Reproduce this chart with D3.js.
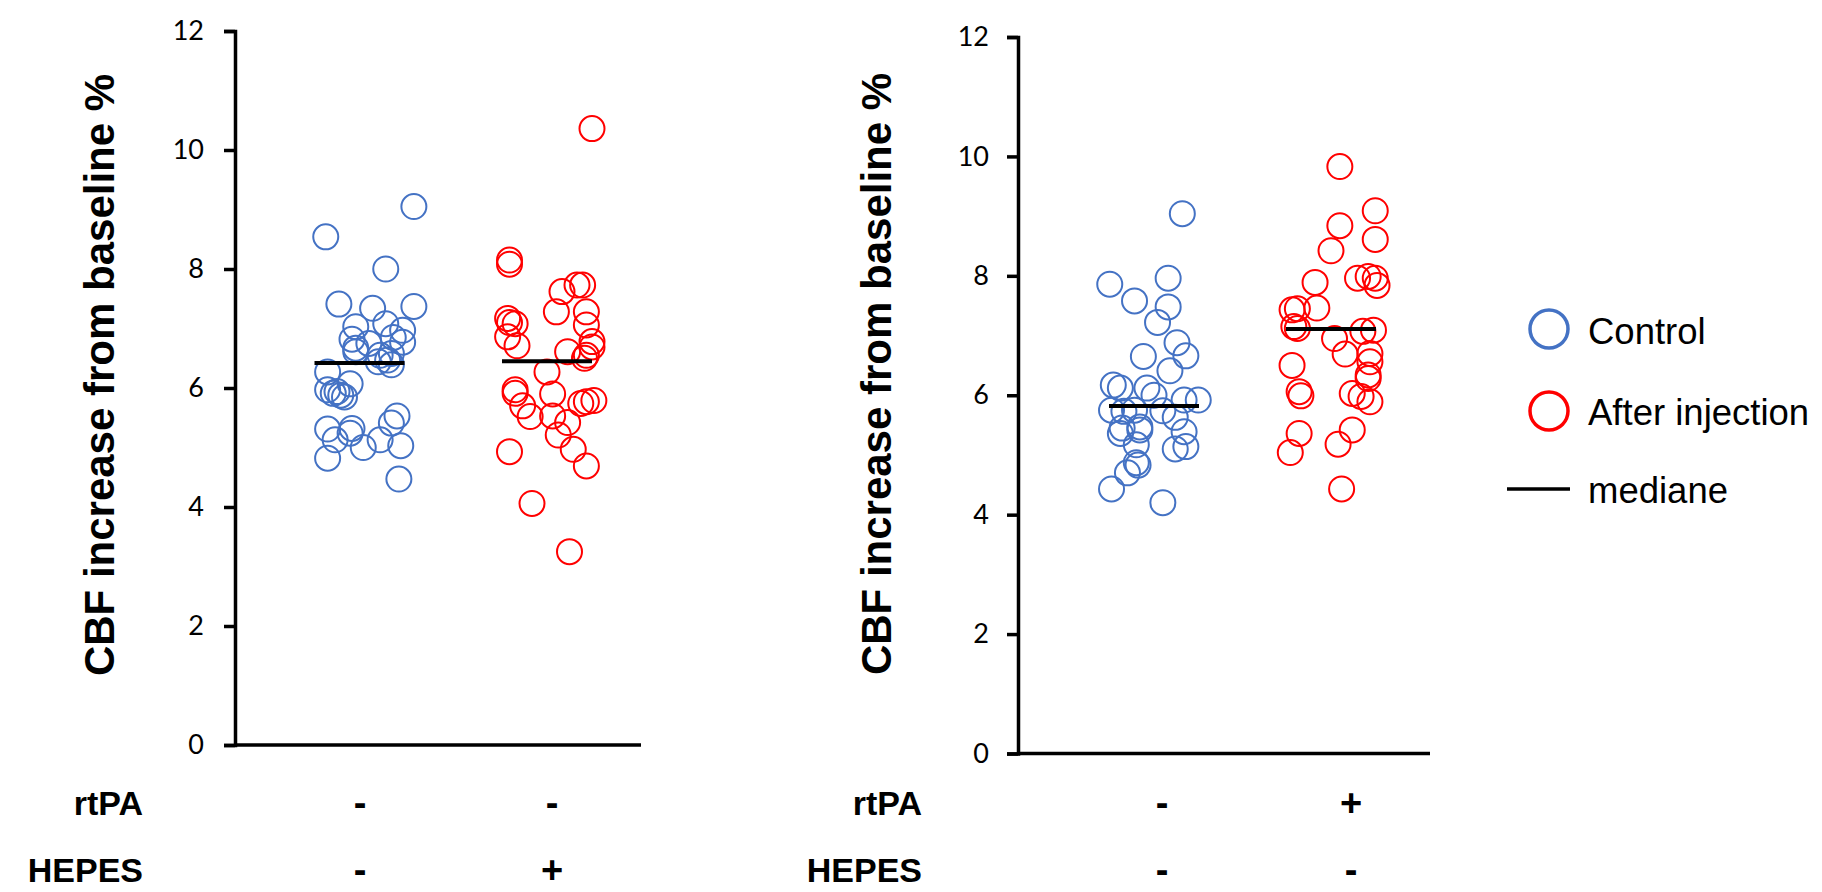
<!DOCTYPE html>
<html>
<head>
<meta charset="utf-8">
<script src="https://cdn.jsdelivr.net/npm/d3@7"></script>
<style>
  html, body { margin: 0; padding: 0; background: #fff; }
  svg { display: block; }
</style>
</head>
<body>
<svg id="chart" width="1822" height="892"></svg>
<script>
// ---------------- DATA ----------------
const yTicks = [0, 2, 4, 6, 8, 10, 12];
const yLabel = "CBF increase from baseline %";
const rowLabels = ["rtPA", "HEPES"];
const leftRtpa = ["-", "-"];
const leftHepes = ["-", "+"];
const rightRtpa = ["-", "+"];
const rightHepes = ["-", "-"];
const legendLabels = ["Control", "After injection", "mediane"];

// Left panel (HEPES experiment) – Control
const leftControl = [9.05, 8.54, 8.00, 7.41, 7.34, 7.37, 7.03, 7.08, 6.97, 6.82, 6.75, 6.85, 6.77, 6.67, 6.61, 6.55, 6.58, 6.47, 6.39, 6.44, 6.27, 6.07, 5.97, 5.94, 5.88, 5.85, 5.91, 5.31, 5.32, 5.13, 5.24, 5.00, 5.13, 5.53, 5.41, 5.03, 4.82, 4.47];
const leftControlJitter = [0.29, -0.18, 0.14, -0.11, 0.07, 0.29, -0.02, 0.14, 0.23, -0.04, 0.05, 0.18, 0.23, -0.02, -0.02, 0.11, 0.17, 0.15, 0.17, 0.10, -0.17, -0.05, -0.17, -0.12, -0.10, -0.08, -0.14, -0.17, -0.04, -0.13, -0.05, 0.02, 0.11, 0.20, 0.17, 0.22, -0.17, 0.21];
// Left panel – After injection
const leftInjection = [10.36, 8.15, 8.08, 7.62, 7.73, 7.73, 7.28, 7.28, 7.06, 7.17, 7.10, 7.08, 6.86, 6.71, 6.78, 6.69, 6.61, 6.55, 6.50, 6.27, 5.97, 5.91, 5.90, 5.70, 5.52, 5.53, 5.74, 5.77, 5.79, 5.42, 5.21, 4.97, 4.69, 4.93, 4.06, 3.25];
const leftInjectionJitter = [0.24, -0.20, -0.20, 0.08, 0.16, 0.19, 0.05, 0.21, 0.21, -0.21, -0.20, -0.17, -0.21, -0.16, 0.24, 0.24, 0.11, 0.21, 0.20, 0.00, -0.17, -0.17, 0.03, -0.13, -0.09, 0.03, 0.18, 0.21, 0.25, 0.11, 0.06, 0.14, 0.21, -0.20, -0.08, 0.12];

// Right panel (rtPA experiment) – Control
const rightControl = [9.04, 7.86, 7.96, 7.58, 7.48, 7.22, 6.88, 6.66, 6.65, 6.41, 6.17, 6.12, 6.12, 6.00, 5.92, 5.92, 5.75, 5.73, 5.75, 5.74, 5.63, 5.47, 5.45, 5.36, 5.42, 5.39, 5.17, 5.14, 5.10, 4.83, 4.87, 4.70, 4.43, 4.20];
const rightControlJitter = [0.16, -0.25, 0.08, -0.11, 0.08, 0.02, 0.13, 0.18, -0.06, 0.09, -0.23, -0.19, -0.04, 0.00, 0.17, 0.25, -0.24, -0.17, -0.11, 0.05, 0.12, -0.08, -0.18, -0.19, -0.08, 0.17, -0.10, 0.18, 0.12, -0.09, -0.10, -0.15, -0.24, 0.05];
// Right panel – After injection
const rightInjection = [9.83, 9.09, 8.84, 8.61, 8.42, 7.89, 7.96, 7.99, 7.96, 7.84, 7.43, 7.45, 7.46, 7.15, 7.12, 6.95, 7.07, 7.09, 6.69, 6.70, 6.56, 6.50, 6.34, 6.28, 6.06, 5.99, 6.03, 5.98, 5.89, 5.36, 5.42, 5.04, 5.18, 4.43];
const rightInjectionJitter = [0.05, 0.25, 0.05, 0.25, 0.00, -0.09, 0.15, 0.21, 0.25, 0.26, -0.22, -0.19, -0.08, -0.21, -0.19, 0.02, 0.18, 0.24, 0.08, 0.22, 0.22, -0.22, 0.21, 0.21, -0.18, -0.17, 0.12, 0.17, 0.22, -0.18, 0.12, -0.23, 0.04, 0.06];

const leftMedians = [6.42, 6.45];
const rightMedians = [5.82, 7.11];

// ---------------- STYLE ----------------
const BLUE = "#4472C4";
const RED = "#FF0000";
const tickFont = "Lato, 'Open Sans', sans-serif";
const textFont = "'Liberation Sans', Arial, sans-serif";

const svg = d3.select("#chart");

function panel(cfg) {
  const y = d3.scaleLinear().domain([0, 12]).range([cfg.y0, cfg.y12]);
  const x = d3.scaleLinear().domain([1, 2]).range([cfg.c1, cfg.c2]);
  const g = svg.append("g");

  // y axis
  const ax = g.append("g")
    .attr("transform", `translate(${cfg.axisX},0)`)
    .call(d3.axisLeft(y).tickValues(yTicks).tickSize(11).tickPadding(cfg.pad).tickFormat(d3.format("d")));
  ax.select(".domain").attr("stroke", "#000").attr("stroke-width", 3.5);
  ax.selectAll(".tick line").attr("stroke", "#000").attr("stroke-width", 3.5);
  ax.selectAll(".tick text").attr("font-family", tickFont).attr("font-size", 27).attr("fill", "#000");

  // x axis line
  g.append("line")
    .attr("x1", cfg.axisX).attr("x2", cfg.axisEnd)
    .attr("y1", y(0)).attr("y2", y(0))
    .attr("stroke", "#000").attr("stroke-width", 3.5);

  // y label
  g.append("text")
    .attr("transform", `translate(${cfg.labelX},${cfg.labelY}) rotate(-90)`)
    .attr("text-anchor", "middle")
    .attr("font-family", textFont).attr("font-weight", "bold").attr("font-size", 42)
    .text(yLabel);

  // points
  const drawPts = (vals, jit, cat, color) => {
    g.append("g").selectAll("circle").data(vals).join("circle")
      .attr("cx", (d, i) => x(cat + jit[i]))
      .attr("cy", d => y(d))
      .attr("r", 12.5)
      .attr("fill", "none")
      .attr("stroke", color)
      .attr("stroke-width", 2);
  };
  drawPts(cfg.control, cfg.controlJ, 1, BLUE);
  drawPts(cfg.inj, cfg.injJ, 2, RED);

  // medians
  g.append("g").selectAll("line").data(cfg.medians).join("line")
    .attr("x1", (d, i) => x(i + 1) - 45)
    .attr("x2", (d, i) => x(i + 1) + 45)
    .attr("y1", d => y(d)).attr("y2", d => y(d))
    .attr("stroke", "#000").attr("stroke-width", 4);

  // condition rows
  const rows = [cfg.rtpa, cfg.hepes];
  rows.forEach((r, ri) => {
    g.append("text")
      .attr("x", cfg.rowLabelRight).attr("y", cfg.rowY[ri])
      .attr("text-anchor", "end").attr("dominant-baseline", "central")
      .attr("font-family", textFont).attr("font-weight", "bold").attr("font-size", 34)
      .text(rowLabels[ri]);
    g.append("g").selectAll("text").data(r).join("text")
      .attr("x", (d, i) => cfg.markX[i])
      .attr("y", cfg.rowY[ri])
      .attr("text-anchor", "middle").attr("dominant-baseline", "central")
      .attr("font-family", textFont).attr("font-weight", "bold").attr("font-size", 38)
      .text(d => d);
  });
}

panel({
  y0: 745, y12: 31, axisX: 235, axisEnd: 641, pad: 20,
  c1: 359.5, c2: 547,
  labelX: 114, labelY: 375,
  control: leftControl, controlJ: leftControlJitter,
  inj: leftInjection, injJ: leftInjectionJitter,
  medians: leftMedians,
  rtpa: leftRtpa, hepes: leftHepes,
  rowLabelRight: 143, rowY: [803, 870], markX: [360, 552]
});

panel({
  y0: 753.5, y12: 37, axisX: 1018, axisEnd: 1430, pad: 18,
  c1: 1154, c2: 1331,
  labelX: 891, labelY: 374,
  control: rightControl, controlJ: rightControlJitter,
  inj: rightInjection, injJ: rightInjectionJitter,
  medians: rightMedians,
  rtpa: rightRtpa, hepes: rightHepes,
  rowLabelRight: 922, rowY: [803, 870], markX: [1162, 1351]
});

// legend
const legend = svg.append("g");
const legColors = [BLUE, RED];
legend.selectAll("circle").data(legColors).join("circle")
  .attr("cx", 1549).attr("cy", (d, i) => [329, 411][i])
  .attr("r", 19).attr("fill", "none").attr("stroke", d => d).attr("stroke-width", 3.5);
legend.append("line")
  .attr("x1", 1507).attr("x2", 1570).attr("y1", 489).attr("y2", 489)
  .attr("stroke", "#000").attr("stroke-width", 3.5);
legend.selectAll("text").data(legendLabels).join("text")
  .attr("x", 1588).attr("y", (d, i) => [344, 425, 503][i])
  .attr("font-family", textFont).attr("font-size", 36.5).attr("fill", "#000")
  .text(d => d);
</script>
</body>
</html>
